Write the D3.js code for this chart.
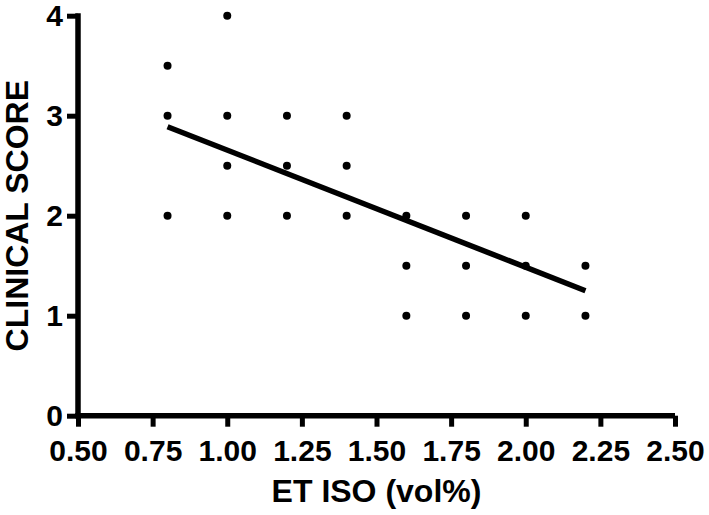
<!DOCTYPE html>
<html>
<head>
<meta charset="utf-8">
<script src="https://cdn.jsdelivr.net/npm/d3@7"></script>
<style>
  html, body { margin: 0; padding: 0; background: #fff; }
  svg { display: block; }
</style>
</head>
<body>
<svg id="chart" width="709" height="515"></svg>
<script>
// ---- data ----
const xValues = [0.8, 0.8, 0.8, 1.0, 1.0, 1.0, 1.0, 1.2, 1.2, 1.2, 1.4, 1.4, 1.4,
                 1.6, 1.6, 1.6, 1.8, 1.8, 1.8, 2.0, 2.0, 2.0, 2.2, 2.2];
const yValues = [2, 3, 3.5, 2, 2.5, 3, 4, 2, 2.5, 3, 2, 2.5, 3,
                 1, 1.5, 2, 1, 1.5, 2, 1, 1.5, 2, 1, 1.5];
const fitX = [0.8, 2.2];
const fitY = [2.89, 1.25];
const xTicks = [0.5, 0.75, 1.0, 1.25, 1.5, 1.75, 2.0, 2.25, 2.5];
const yTicks = [0, 1, 2, 3, 4];
const xTitle = "ET ISO (vol%)";
const yTitle = "CLINICAL SCORE";

// ---- layout ----
const W = 709, H = 515;
const m = { left: 78, right: 34, top: 15.7, bottom: 99.3 };
const svg = d3.select("#chart");
const font = "'Liberation Sans', Arial, Helvetica, sans-serif";

const x = d3.scaleLinear().domain([0.5, 2.5]).range([m.left, W - m.right]);
const y = d3.scaleLinear().domain([0, 4]).range([H - m.bottom, m.top]);

// axes
const xAxis = d3.axisBottom(x).tickValues(xTicks).tickFormat(d3.format(".2f"))
  .tickSizeInner(11).tickSizeOuter(0).tickPadding(13);
const yAxis = d3.axisLeft(y).tickValues(yTicks).tickFormat(d3.format("d"))
  .tickSizeInner(11).tickSizeOuter(0).tickPadding(4);

const gx = svg.append("g").attr("transform", `translate(0,${y(0)})`).call(xAxis);
const gy = svg.append("g").attr("transform", `translate(${x(0.5)},0)`).call(yAxis);

[gx, gy].forEach(g => {
  g.select(".domain").attr("stroke", "#000").attr("stroke-width", 5.5);
  g.selectAll(".tick line").attr("stroke", "#000").attr("stroke-width", 5);
  g.selectAll(".tick text").attr("fill", "#000")
    .style("font-family", font).style("font-weight", "bold").style("font-size", "30px");
});
// extend domains so corners are square
gx.select(".domain").attr("d", `M${x(0.5) - 2.75},0H${x(2.5)}`);
gy.select(".domain").attr("d", `M0,${y(4) - 2.5}V${y(0)}`);

// points
svg.append("g").selectAll("circle")
  .data(xValues.map((v, i) => [v, yValues[i]]))
  .join("circle")
  .attr("cx", d => x(d[0]))
  .attr("cy", d => y(d[1]))
  .attr("r", 4)
  .attr("fill", "#000");

// fit line
const line = d3.line().x(d => x(d[0])).y(d => y(d[1]));
svg.append("path")
  .datum(fitX.map((v, i) => [v, fitY[i]]))
  .attr("d", line)
  .attr("fill", "none")
  .attr("stroke", "#000")
  .attr("stroke-width", 5.5);

// titles
svg.append("text")
  .attr("x", (x(0.5) + x(2.5)) / 2)
  .attr("y", 502)
  .attr("text-anchor", "middle")
  .style("font-family", font).style("font-weight", "bold").style("font-size", "32px")
  .text(xTitle);

svg.append("text")
  .attr("transform", `translate(28,${(y(0) + y(4)) / 2}) rotate(-90)`)
  .attr("text-anchor", "middle")
  .style("font-family", font).style("font-weight", "bold").style("font-size", "32px")
  .text(yTitle);
</script>
</body>
</html>
